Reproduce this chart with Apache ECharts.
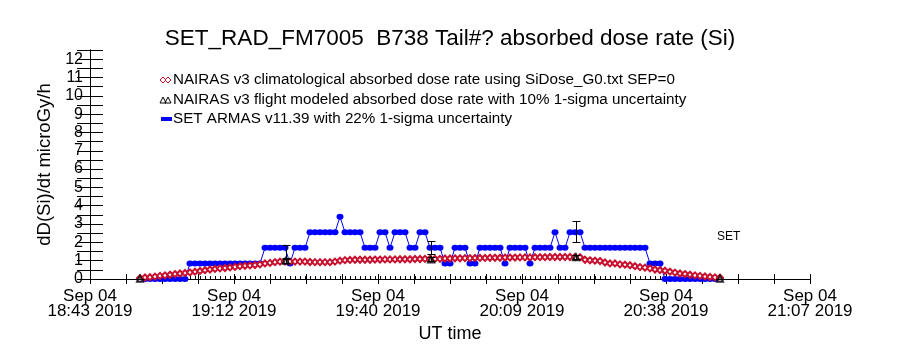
<!DOCTYPE html>
<html><head><meta charset="utf-8">
<script src="https://cdn.jsdelivr.net/npm/echarts@6/dist/echarts.min.js"></script>
<style>html,body{margin:0;padding:0;background:#fff}#c{width:900px;height:350px}</style>
</head><body><div id="c"></div>
<script>
const titleText = 'SET_RAD_FM7005  B738 Tail#? absorbed dose rate (Si)';
const legendTexts = [
  'NAIRAS v3 climatological absorbed dose rate using SiDose_G0.txt SEP=0',
  'NAIRAS v3 flight modeled absorbed dose rate with 10% 1-sigma uncertainty',
  'SET ARMAS v11.39 with 22% 1-sigma uncertainty'
];
const xTickLabels = ['Sep 04\n18:43 2019','Sep 04\n19:12 2019','Sep 04\n19:40 2019','Sep 04\n20:09 2019','Sep 04\n20:38 2019','Sep 04\n21:07 2019'];
const yTickLabels = ['0','1','2','3','4','5','6','7','8','9','10','11','12'];

// minutes since 18:43:20 UT
const armasMinutes = [10,11,12,13,14,15,16,17,18,19,20,21,22,23,24,25,26,27,28,29,30,31,32,33,34,35,36,37,38,39,40,41,42,43,44,45,46,47,48,49,50,51,52,53,54,55,56,57,58,59,60,61,62,63,64,65,66,67,68,69,70,71,72,73,74,75,76,77,78,79,80,81,82,83,84,85,86,87,88,89,90,91,92,93,94,95,96,97,98,99,100,101,102,103,104,105,106,107,108,109,110,111,112,113,114,115,116,117,118,119,120,121,122,123,124,125,126];
const armasValues = [
  0,0,0,0,0,0,0,0,0,0,
  0.85,0.85,0.85,0.85,0.85,0.85,0.85,0.85,0.85,0.85,0.85,0.85,0.85,0.85,0.85,
  1.7,1.7,1.7,1.7,1.7,
  0.85,
  1.7,1.7,1.7,
  2.55,2.55,2.55,2.55,2.55,2.55,
  3.4,
  2.55,2.55,2.55,2.55,
  1.7,1.7,1.7,
  2.55,2.55,
  1.7,
  2.55,2.55,2.55,
  1.7,1.7,
  2.55,2.55,
  1.7,1.7,1.7,
  0.85,0.85,
  1.7,1.7,1.7,
  0.85,0.85,
  1.7,1.7,1.7,1.7,1.7,
  0.85,
  1.7,1.7,1.7,1.7,
  0.85,
  1.7,1.7,1.7,1.7,
  2.55,
  1.7,1.7,
  2.55,2.55,2.55,
  1.7,1.7,1.7,1.7,1.7,1.7,1.7,1.7,1.7,1.7,1.7,1.7,1.7,
  0.85,0.85,0.85,
  0,0,0,0,0,0,0,0,0,0,0,0
];
const nairasClimValues = [
  0.05,0.08,0.1,0.13,0.17,0.2,0.23,0.27,0.3,0.33,
  0.36,0.4,0.44,0.48,0.52,0.55,0.58,0.6,0.63,0.66,0.7,0.72,0.74,0.76,0.8,
  0.85,0.88,0.92,0.95,0.95,0.95,0.95,0.95,0.95,0.93,0.92,
  0.92,0.92,0.92,0.95,1.0,1.03,1.04,
  1.05,1.05,1.05,1.05,1.06,1.06,1.07,1.07,1.07,1.08,1.08,1.08,1.09,1.09,1.1,1.1,1.1,1.1,
  1.12,1.12,1.13,1.13,1.14,1.14,1.15,1.15,1.15,1.16,1.16,1.16,1.17,1.17,1.17,1.18,1.18,1.18,1.19,1.19,1.19,1.2,1.2,1.2,1.2,1.2,1.2,1.19,
  1.05,1.02,1.0,0.98,
  0.9,0.85,0.85,0.8,0.78,0.75,
  0.7,0.65,0.62,0.58,0.52,0.48,
  0.45,0.4,0.35,0.3,0.27,0.23,0.2,0.17,0.14,0.11,0.09,0.07
];
const nairasFlightMinutes = [10, 39.2, 68.2, 97.2, 126];
const nairasFlightValues = [0.02, 1.0, 1.07, 1.19, 0.02];
const nairasFlightUnc = 0.10;
const armasErrMinutes = [39.2, 68.2, 97.2];
const armasErrValues = [1.5, 1.72, 2.58];
const armasUnc = 0.22;

const FONT = 'Liberation Sans';
const RED = '#c8102e';
const BLUE = '#0000ff';

const chart = echarts.init(document.getElementById('c'), null, {renderer:'canvas'});

function errRender(params, api){
  const t = api.value(0), lo = api.value(1), hi = api.value(2);
  const pLo = api.coord([t, lo]), pHi = api.coord([t, hi]);
  const px = Math.round(pLo[0]) + 0.5;
  const yLo = Math.round(pLo[1]) + 0.5, yHi = Math.round(pHi[1]) + 0.5;
  const hw = 4;
  const st = {stroke:'#000', lineWidth:1};
  return {type:'group', children:[
    {type:'line', shape:{x1:px, y1:yHi, x2:px, y2:yLo}, style:st},
    {type:'line', shape:{x1:px-hw, y1:yHi, x2:px+hw, y2:yHi}, style:st},
    {type:'line', shape:{x1:px-hw, y1:yLo, x2:px+hw, y2:yLo}, style:st}
  ]};
}
function tickRender(params, api){
  const p = api.coord([api.value(0), 0]);
  const px = Math.round(p[0]) + 0.5;
  return {type:'line', shape:{x1:px, y1:p[1], x2:px, y2:p[1]-3}, style:{stroke:'#000', lineWidth:1}};
}

const armasData = armasMinutes.map((t,i)=>[t, armasValues[i]]);
const climData = armasMinutes.map((t,i)=>[t, nairasClimValues[i]]);
const flightData = nairasFlightMinutes.map((t,i)=>[t, nairasFlightValues[i]]);
const flightErr = nairasFlightMinutes.map((t,i)=>[t, nairasFlightValues[i]*(1-nairasFlightUnc), nairasFlightValues[i]*(1+nairasFlightUnc)]);
const armasErr = armasErrMinutes.map((t,i)=>[t, armasErrValues[i]*(1-armasUnc), armasErrValues[i]*(1+armasUnc)]);
const recTicks = armasMinutes.filter((t,i)=>armasValues[i] > 0).map(t=>[t]);

const xLabelFmt = v => {
  const k = v / 28.8;
  const r = Math.round(k);
  return Math.abs(k - r) < 1e-6 ? xTickLabels[r] : '';
};
const yLabelFmt = v => {
  const r = Math.round(v);
  return Math.abs(v - r) < 1e-6 ? yTickLabels[r] : '';
};

const axisCommon = {
  axisLine:{show:true, lineStyle:{color:'#000', width:1}},
  splitLine:{show:false}
};

const option = {
  animation:false,
  backgroundColor:'#fff',
  title:{text:titleText, left:445, top:22, textAlign:'center',
    textStyle:{fontFamily:FONT, fontSize:22.5, fontWeight:'normal', color:'#000'}},
  grid:{left:90, right:90, top:50, bottom:71},
  xAxis:[
    Object.assign({type:'value', position:'bottom', min:0, max:144, interval:7.2,
      axisTick:{inside:true, length:5, lineStyle:{color:'#000'}},
      axisLabel:{formatter:xLabelFmt, fontFamily:FONT, fontSize:17, lineHeight:15, color:'#000', margin:10},
      name:'UT time', nameLocation:'middle', nameGap:46,
      nameTextStyle:{fontFamily:FONT, fontSize:18, color:'#000'}}, axisCommon),
    Object.assign({type:'value', position:'top', min:0, max:144, interval:7.2,
      axisTick:{inside:true, length:5, lineStyle:{color:'#000'}},
      axisLabel:{show:false}}, axisCommon)
  ],
  yAxis:[
    Object.assign({type:'value', position:'left', min:0, max:12.5, interval:0.5,
      axisTick:{inside:true, length:13, lineStyle:{color:'#000'}},
      axisLabel:{formatter:yLabelFmt, fontFamily:FONT, fontSize:16, color:'#000', margin:7, padding:[0,0,8,0]},
      name:'dD(Si)/dt microGy/h', nameLocation:'middle', nameGap:36, nameRotate:90,
      nameTextStyle:{fontFamily:FONT, fontSize:18.5, color:'#000'}}, axisCommon),
    Object.assign({type:'value', position:'right', min:0, max:12.5, interval:0.5,
      axisTick:{inside:true, length:13, lineStyle:{color:'#000'}},
      axisLabel:{show:false}}, axisCommon)
  ],
  graphic:[
    {type:'polygon', shape:{points:[[160,80],[163,77],[166,80],[163,83]]}, style:{fill:'#fff', stroke:RED, lineWidth:1}},
    {type:'polygon', shape:{points:[[165,80],[168,77],[171,80],[168,83]]}, style:{fill:'#fff', stroke:RED, lineWidth:1}},
    {type:'polygon', shape:{points:[[160,103],[163,97],[166,103]]}, style:{fill:'none', stroke:'#000', lineWidth:1}},
    {type:'polygon', shape:{points:[[165,103],[168,97],[171,103]]}, style:{fill:'none', stroke:'#000', lineWidth:1}},
    {type:'rect', shape:{x:161, y:117, width:11, height:4}, style:{fill:BLUE}},
    {type:'text', left:173, top:72, style:{text:legendTexts[0], font:'15.2px "'+FONT+'"', fill:'#000'}},
    {type:'text', left:173, top:92, style:{text:legendTexts[1], font:'15.2px "'+FONT+'"', fill:'#000'}},
    {type:'text', left:173, top:111, style:{text:legendTexts[2], font:'15.2px "'+FONT+'"', fill:'#000'}},
    {type:'text', left:717, top:231, style:{text:'SET', font:'12px "'+FONT+'"', fill:'#000'}}
  ],
  series:[
    {type:'custom', name:'records', renderItem:tickRender, data:recTicks, encode:{x:0, y:0}, z:1, silent:true, clip:false},
    {type:'line', name:legendTexts[2], data:armasData, symbol:'circle', symbolSize:[7,6],
      itemStyle:{color:BLUE}, lineStyle:{color:BLUE, width:1}, z:2},
    {type:'line', name:legendTexts[0], data:climData, symbol:'emptyDiamond', symbolSize:[6,6],
      itemStyle:{color:RED, borderWidth:1}, lineStyle:{color:RED, width:1}, z:3},
    {type:'scatter', name:legendTexts[1], data:flightData, symbol:'emptyTriangle', symbolSize:6,
      itemStyle:{color:'#000', borderColor:'#000', borderWidth:1}, z:4},
    {type:'custom', name:'flightErr', renderItem:errRender, data:flightErr, encode:{x:0, y:[1,2]}, z:5, silent:true},
    {type:'custom', name:'armasErr', renderItem:errRender, data:armasErr, encode:{x:0, y:[1,2]}, z:5, silent:true}
  ]
};
chart.setOption(option);
</script>
</body></html>
